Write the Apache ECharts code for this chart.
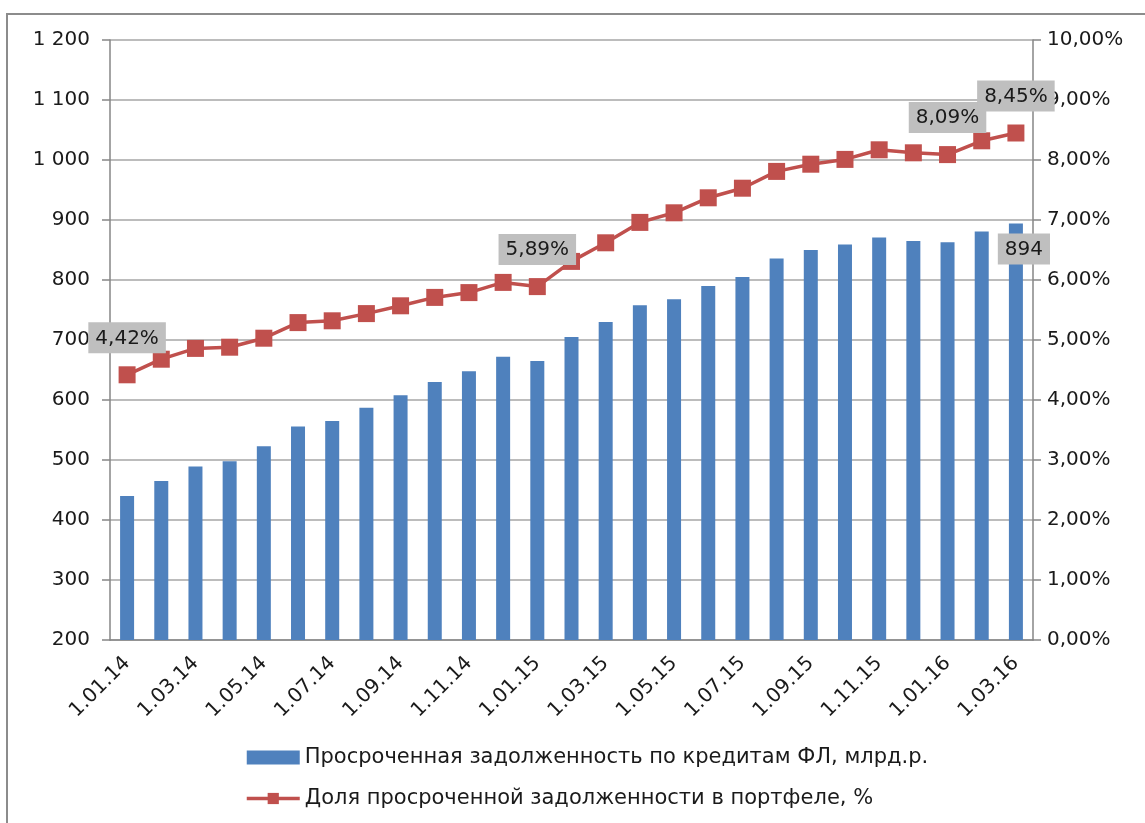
<!DOCTYPE html>
<html>
<head>
<meta charset="utf-8">
<script src="https://cdn.jsdelivr.net/npm/echarts@6/dist/echarts.min.js"></script>
<style>
  html, body { margin: 0; padding: 0; background: #fff; }
  #chart { width: 1145px; height: 823px; }
</style>
</head>
<body>
<div id="chart"></div>
<script>
// даты (1-е число месяца)
const dates = [
  "1.01.14", "1.02.14", "1.03.14", "1.04.14", "1.05.14", "1.06.14", "1.07.14", "1.08.14", "1.09.14",
  "1.10.14", "1.11.14", "1.12.14", "1.01.15", "1.02.15", "1.03.15", "1.04.15", "1.05.15", "1.06.15",
  "1.07.15", "1.08.15", "1.09.15", "1.10.15", "1.11.15", "1.12.15", "1.01.16", "1.02.16", "1.03.16"
];
// просроченная задолженность, млрд руб.
const overdue = [
  440, 465, 489, 498, 523, 556, 565, 587, 608,
  630, 648, 672, 665, 705, 730, 758, 768, 790,
  805, 836, 850, 859, 871, 865, 863, 881, 894
];
// доля просрочки в портфеле, %
const share = [
  4.42, 4.68, 4.86, 4.88, 5.03, 5.29, 5.32, 5.44, 5.57,
  5.71, 5.79, 5.96, 5.89, 6.31, 6.62, 6.96, 7.12, 7.37,
  7.53, 7.81, 7.93, 8.01, 8.17, 8.12, 8.09, 8.32, 8.45
];
const shareLabelIdx = [0, 12, 24, 26]; // подписанные точки линии
const overdueLabelIdx = [26];           // подписанный столбец

const barName = "Просроченная задолженность по кредитам ФЛ, млрд.р.";
const lineName = "Доля просроченной задолженности в портфеле, %";

const font = "DejaVu Sans";
const textColor = "#1a1a1a";
const labelBox = {
  backgroundColor: "#bfbfbf",
  color: textColor,
  fontFamily: font,
  fontSize: 20,
  padding: [6, 7, 5, 7],
};

const chart = echarts.init(document.getElementById("chart"));

chart.setOption({
  animation: false,
  textStyle: { fontFamily: font },
  graphic: [{
    type: "rect",
    shape: { x: 7, y: 14, width: 1300, height: 1000 },
    style: { fill: "none", stroke: "#8c8c8c", lineWidth: 2 },
    silent: true,
    z: -1,
  }],
  grid: { left: 110, right: 112, top: 40, bottom: 183 },
  legend: {
    orient: "vertical",
    left: 240,
    top: 740,
    itemWidth: 53,
    itemHeight: 14,
    itemGap: 16,
    textStyle: { fontSize: 21, color: textColor, lineHeight: 25, fontFamily: font },
    data: [
      { name: barName, icon: "rect" },
      { name: lineName, lineStyle: { width: 3.5 } },
    ],
  },
  xAxis: {
    type: "category",
    data: dates,
    boundaryGap: true,
    axisLine: { lineStyle: { color: "#868686", width: 1.5 } },
    axisTick: { interval: 1, length: 8, lineStyle: { color: "#868686", width: 1.5 } },
    axisLabel: { interval: 1, rotate: 45, fontSize: 20, color: textColor, margin: 20 },
  },
  yAxis: [
    {
      type: "value",
      min: 200,
      max: 1200,
      interval: 100,
      axisLine: { show: true, lineStyle: { color: "#868686", width: 1.5 } },
      axisTick: { show: true, length: 8, lineStyle: { color: "#868686", width: 1.5 } },
      splitLine: { lineStyle: { color: "#a6a6a6", width: 1.5 } },
      axisLabel: {
        fontSize: 20,
        color: textColor,
        margin: 20,
        formatter: v => String(v).replace(/\B(?=(\d{3})+(?!\d))/g, " "),
      },
    },
    {
      type: "value",
      min: 0,
      max: 10,
      interval: 1,
      axisLine: { show: true, lineStyle: { color: "#868686", width: 1.5 } },
      axisTick: { show: true, length: 8, lineStyle: { color: "#868686", width: 1.5 } },
      splitLine: { show: false },
      axisLabel: {
        fontSize: 20,
        color: textColor,
        margin: 14,
        formatter: v => v.toFixed(2).replace(".", ",") + "%",
      },
    },
  ],
  series: [
    {
      name: barName,
      type: "bar",
      yAxisIndex: 0,
      barWidth: 14,
      itemStyle: { color: "#4f81bd" },
      data: overdue.map((v, i) => ({
        value: v,
        label: overdueLabelIdx.includes(i)
          ? { show: true, position: "insideTop", offset: [8, 5], ...labelBox, formatter: p => String(p.value) }
          : { show: false },
      })),
      z: 2,
    },
    {
      name: lineName,
      type: "line",
      yAxisIndex: 1,
      symbol: "rect",
      symbolSize: 17,
      lineStyle: { color: "#c0504d", width: 3.5 },
      itemStyle: { color: "#c0504d" },
      data: share.map((v, i) => ({
        value: v,
        label: shareLabelIdx.includes(i)
          ? { show: true, position: "top", distance: 13, ...labelBox, formatter: p => p.value.toFixed(2).replace(".", ",") + "%" }
          : { show: false },
      })),
      z: 3,
    },
  ],
});

window.addEventListener("resize", () => chart.resize());
</script>
</body>
</html>
